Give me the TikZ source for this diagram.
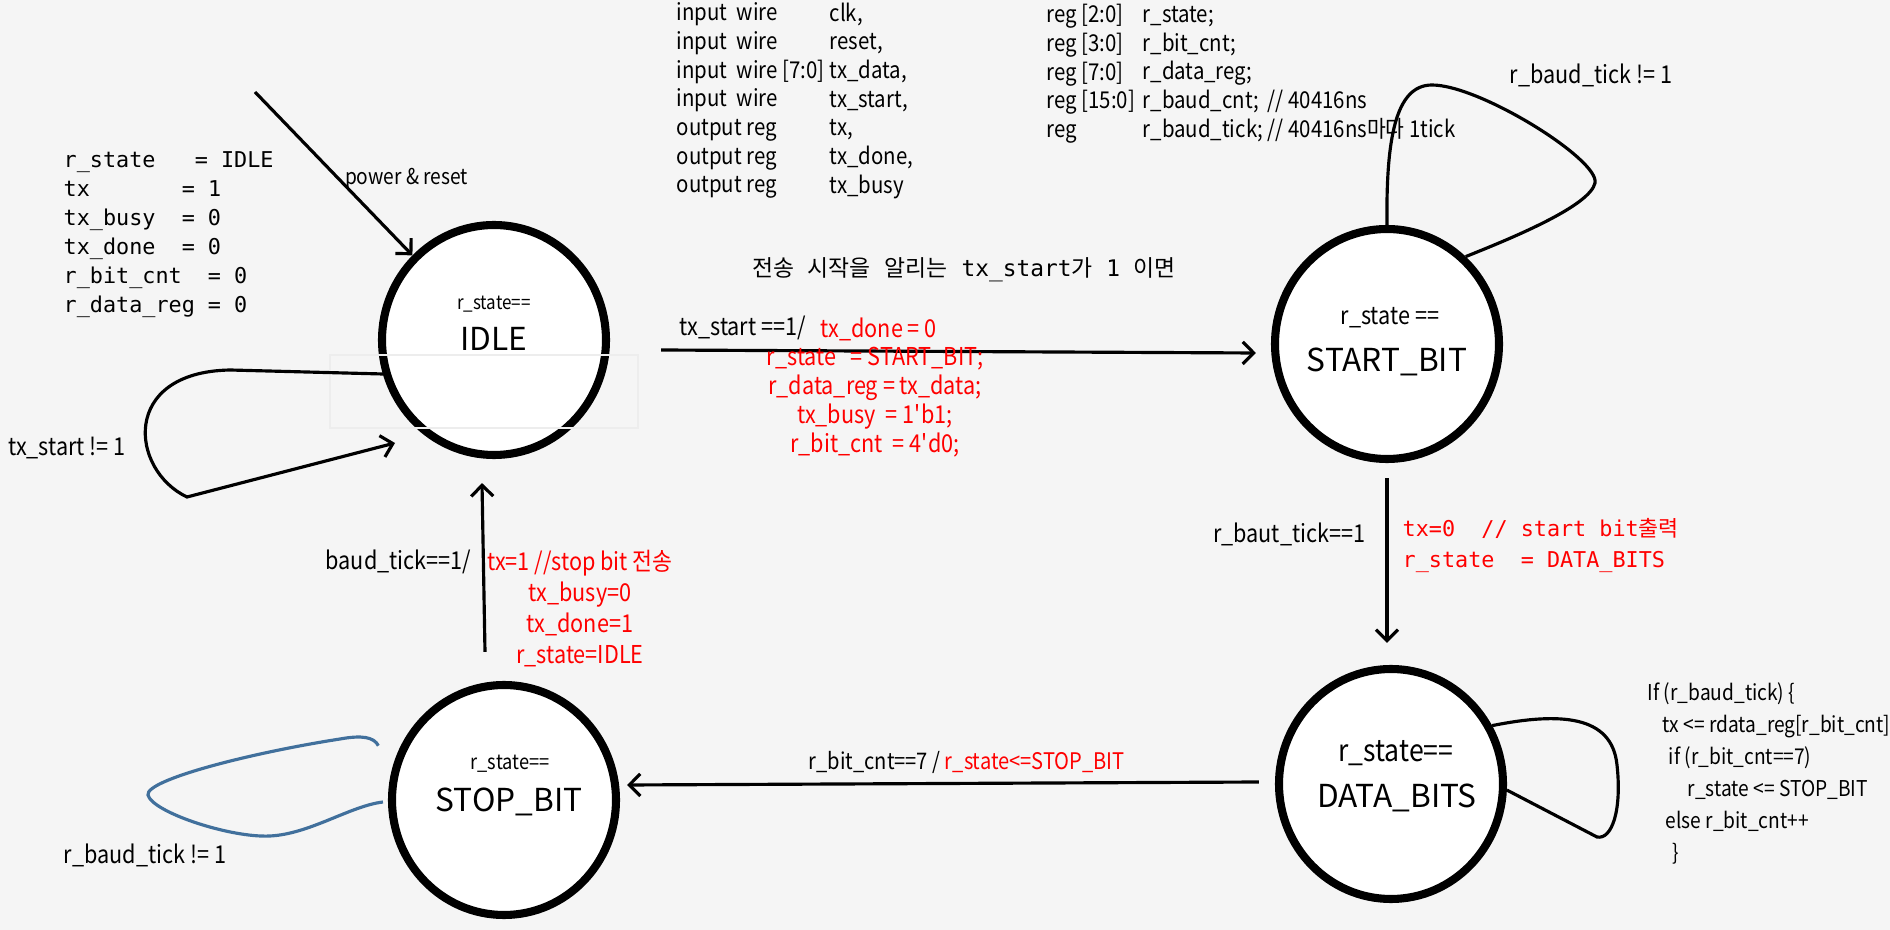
\documentclass[tikz,border=0pt]{standalone}
\usepackage{fontspec}
\setmainfont{Noto Sans CJK KR}
\newfontfamily\narrowfont{Noto Sans CJK KR}[FakeStretch=0.88]
\newfontfamily\codefont{DejaVu Sans Mono}
\usetikzlibrary{positioning, shapes.geometric, arrows.meta}
\definecolor{canvas}{HTML}{F5F5F5}
\definecolor{loopblue}{HTML}{41709C}

\begin{document}
\begin{tikzpicture}[
	>={Straight Barb[length=1.1mm,width=2.2mm]},
	state/.style={
		ellipse, draw=black, line width=2.3pt, fill=white,
		minimum width=2.24cm, minimum height=2.30cm, inner sep=0pt
	},
	statename/.style={font=\fontsize{9}{10}\selectfont, inner sep=0pt},
	stateeq/.style={font=\narrowfont\fontsize{#1}{#1}\selectfont, inner sep=0pt},
	trans/.style={font=\narrowfont\fontsize{7}{8.3}\selectfont, inner sep=0pt},
	sig/.style={font=\narrowfont\fontsize{6.6}{8.15}\selectfont, inner sep=0pt, align=left},
	code/.style={font=\codefont\fontsize{6.2}{8.25}\selectfont, inner sep=0pt, align=left},
	hint/.style={font=\fontsize{6.5}{7}\selectfont, inner sep=0pt},
	arrow/.style={->, line width=0.9pt},
	selfloop/.style={line width=0.9pt},
	bluloop/.style={line width=0.9pt, draw=loopblue},
	ghost/.style={draw=white!93!black, line width=0.3pt}
	]
	
	% Canvas
	\fill[canvas] (0,0) rectangle (18.9,-9.3);
	\useasboundingbox (0,0) rectangle (18.9,-9.3);
	
	% States
	\node[state] (idle)  at (4.94,-3.40) {};
	\node[state] (start) at (13.87,-3.44) {};
	\node[state] (data)  at (13.91,-7.84) {};
	\node[state] (stop)  at (5.04,-8.00) {};
	\draw[ghost] ([shift={(-1.64,-0.15)}]idle.center) rectangle ([shift={(1.44,-0.88)}]idle.center);
	
	\node[stateeq=5.5, yshift=3.6mm] (idleeq) at (idle) {r\_state==};
	\node[statename, yshift=0.1mm] (idlename) at (idle) {IDLE};
	\node[stateeq=7, xshift=0.3mm, yshift=2.6mm] (starteq) at (start) {r\_state ==};
	\node[statename, yshift=-1.8mm] (startname) at (start) {START\_BIT};
	\node[stateeq=8.6, xshift=0.5mm, yshift=3.1mm] (dataeq) at (data) {r\_state==};
	\node[statename, xshift=0.6mm, yshift=-1.4mm] (dataname) at (data) {DATA\_BITS};
	\node[stateeq=5.9, xshift=0.6mm, yshift=3.6mm] (stopeq) at (stop) {r\_state==};
	\node[statename, xshift=0.5mm, yshift=-0.2mm] (stopname) at (stop) {STOP\_BIT};
	
	% Declarations
	\node[code, anchor=west] (init) at (0.63,-2.345) {r\_state~~~=~IDLE\\ tx~~~~~~~=~1\\ tx\_busy~~=~0\\ tx\_done~~=~0\\ r\_bit\_cnt~~=~0\\ r\_data\_reg~=~0};
	\node[sig, anchor=west] (ports) at (6.76,-1.007) {input~~wire\\ input~~wire\\ input~~wire [7:0]\\ input~~wire\\ output reg\\ output reg\\ output reg};
	\node[sig, anchor=west] (portnames) at (8.29,-1.007) {clk,\\ reset,\\ tx\_data,\\ tx\_start,\\ tx,\\ tx\_done,\\ tx\_busy};
	\node[sig, anchor=west] (regs) at (10.46,-0.74) {reg [2:0]\\ reg [3:0]\\ reg [7:0]\\ reg [15:0]\\ reg};
	\node[sig, anchor=west] (regnames) at (11.42,-0.74) {r\_state;\\ r\_bit\_cnt;\\ r\_data\_reg;\\ r\_baud\_cnt;~~// 40416ns\\ r\_baud\_tick; // 40416ns마다 1tick};
	\node[hint] (note) at (9.64,-2.70) {전송{\codefont~}시작을{\codefont~}알리는{\codefont~tx\_start}가{\codefont~1~}이면};
	
	% Power on
	\coordinate (pwr) at (2.55,-0.92);
	\draw[arrow] (pwr) -- node[trans, anchor=west, pos=0.53, xshift=0.5mm, font=\narrowfont\fontsize{6.2}{7}\selectfont] (pwrlbl) {power \& reset} (idle);
	
	% IDLE -> START_BIT
	\draw[arrow] ([xshift=5.1mm,yshift=-1mm]idle.east) -- ([xshift=-1.5mm,yshift=-0.9mm]start.west);
	\node[trans, anchor=west] (cond1) at (6.79,-3.28) {tx\_start ==1/};
	\node[trans, anchor=west, text=red] (act1a) at (8.20,-3.29) {tx\_done = 0};
	\node[trans, align=center, text=red] (act1b) at (8.75,-4.02) {r\_state~~~= START\_BIT;\\ r\_data\_reg = tx\_data;\\ tx\_busy~~= 1\textquotesingle b1;\\ r\_bit\_cnt~~= 4\textquotesingle d0;};
	
	% START_BIT -> DATA_BITS
	\draw[arrow] ([yshift=-1.5mm]start.south) -- ([yshift=2.2mm]start.south |- data.north);
	\node[trans, anchor=east] (cond2) at (13.66,-5.34) {r\_baut\_tick==1};
	\node[code, anchor=west, text=red, font=\codefont\fontsize{6.2}{8.8}\selectfont] (act2) at (14.02,-5.455) {tx=0~~//~start~bit{\rmfamily 출력}\\ r\_state~~=~DATA\_BITS};
	
	% DATA_BITS -> STOP_BIT
	\draw[arrow] ([xshift=-1.6mm,yshift=0.2mm]data.west) -- ([xshift=0.7mm,yshift=1.5mm]stop.east);
	\node[trans, anchor=west, font=\narrowfont\fontsize{6.5}{7}\selectfont] (cond3) at (8.08,-7.62) {r\_bit\_cnt==7 / \textcolor{red}{r\_state<=STOP\_BIT}};
	
	% STOP_BIT -> IDLE
	\draw[arrow] ([xshift=-1.9mm,yshift=2.9mm]stop.north) -- ([xshift=-1.2mm,yshift=-2.4mm]idle.south);
	\node[trans, anchor=east] (cond4) at (4.72,-5.62) {baud\_tick==1/};
	\node[trans, align=center, text=red, font=\narrowfont\fontsize{7}{8.8}\selectfont] (act4) at (5.80,-6.085) {tx=1 //stop bit 전송\\ tx\_busy=0\\ tx\_done=1\\ r\_state=IDLE};
	
	% Self loops
	\draw[arrow] (idle.197) -- (2.30,-3.70) .. controls (1.20,-3.72) and (1.30,-4.70) .. (1.87,-4.97) -- ([shift={(-0.99,-1.03)}]idle.center);
	\node[trans] (loop1) at (0.67,-4.48) {tx\_start != 1};
	
	\draw[selfloop] (start.north) .. controls (13.86,-1.40) and (13.95,-0.85) .. (14.32,-0.85) .. controls (14.80,-0.85) and (16.00,-1.60) .. (15.95,-1.83) .. controls (15.90,-2.05) and (15.20,-2.35) .. (start.48);
	\node[trans] (loop2) at (15.91,-0.75) {r\_baud\_tick != 1};
	
	\draw[selfloop] (data.30) .. controls (15.60,-7.12) and (16.12,-7.15) .. (16.17,-7.65) .. controls (16.22,-8.10) and (16.12,-8.40) .. (15.97,-8.37) -- (data.357);
	\node[trans, anchor=west, align=left, font=\narrowfont\fontsize{6.2}{9.1}\selectfont] (loop3) at (16.47,-7.73) {If (r\_baud\_tick) \{\\ \hspace*{4.3pt}tx <= rdata\_reg[r\_bit\_cnt]\\ \hspace*{6pt}if (r\_bit\_cnt==7)\\ \hspace*{11.4pt}r\_state <= STOP\_BIT\\ \hspace*{5.1pt}else r\_bit\_cnt++\\ \hspace*{7.1pt}\}};
	
	\draw[bluloop] ([shift={(-0.20,0.05)}]stop.155) .. controls (3.74,-7.37) and (3.62,-7.35) .. (3.40,-7.39) .. controls (2.50,-7.53) and (1.45,-7.80) .. (1.48,-7.95) .. controls (1.52,-8.12) and (2.30,-8.38) .. (2.70,-8.36) .. controls (3.10,-8.34) and (3.50,-8.06) .. ([shift={(-0.05,-0.02)}]stop.west);
	\node[trans] (loop4) at (1.45,-8.55) {r\_baud\_tick != 1};
	
\end{tikzpicture}
\end{document}
